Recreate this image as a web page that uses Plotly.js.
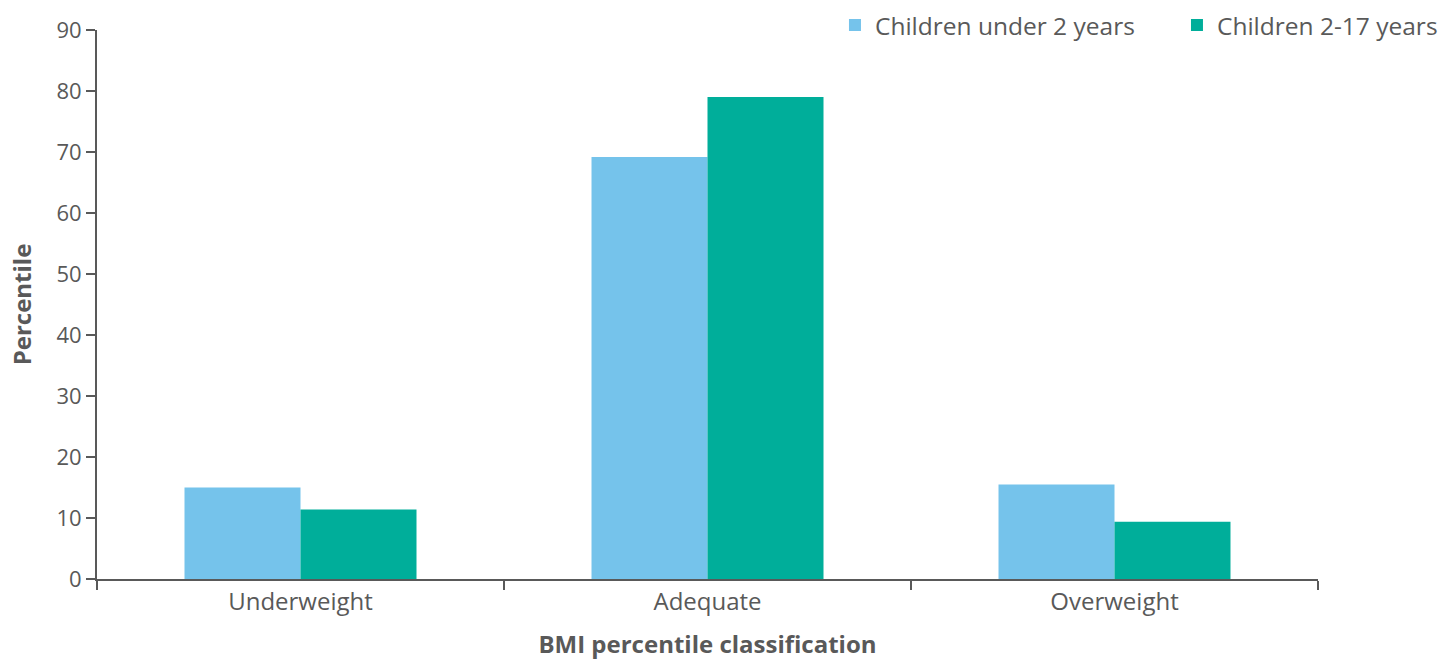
<!DOCTYPE html>
<html>
<head>
<meta charset="utf-8">
<script src="https://cdn.plot.ly/plotly-3.0.1.min.js"></script>
<style>html,body{margin:0;padding:0;background:#fff;}#chart{width:1456px;height:660px;}</style>
</head>
<body>
<div id="chart"></div>
<script>
const categories = ["Underweight", "Adequate", "Overweight"];
const seriesNames = ["Children under 2 years", "Children 2-17 years"];
const under2 = [15.0, 69.2, 15.5];
const age2to17 = [11.4, 79.0, 9.4];
const yTicks = [0, 10, 20, 30, 40, 50, 60, 70, 80, 90];

const textColor = "#595959";
const font = "'Open Sans', 'Noto Sans', sans-serif";

const traces = [
  {type: "bar", name: seriesNames[0], x: categories, y: under2, marker: {color: "#75C3EB"}, hoverinfo: "x+y"},
  {type: "bar", name: seriesNames[1], x: categories, y: age2to17, marker: {color: "#00AE9A"}, hoverinfo: "x+y"}
];

const layout = {
  width: 1456, height: 660,
  margin: {l: 97, r: 138, t: 30, b: 81, pad: 0, autoexpand: false},
  paper_bgcolor: "#fff", plot_bgcolor: "#fff",
  font: {family: font, size: 24, color: textColor},
  barmode: "group",
  bargap: 0.43,
  bargroupgap: 0,
  showlegend: true,
  legend: {orientation: "h", x: 0.6044, xanchor: "left", y: 1.009, yanchor: "middle",
           entrywidth: 297, entrywidthmode: "pixels",
           font: {size: 24.5, color: textColor}, bgcolor: "rgba(0,0,0,0)", traceorder: "normal"},
  xaxis: {
    type: "category", categoryarray: categories,
    showline: true, linecolor: "#595959", linewidth: 2,
    ticks: "outside", tickson: "boundaries", ticklen: 9, tickwidth: 2, tickcolor: "#595959",
    showgrid: false, zeroline: false,
    tickfont: {size: 24, color: textColor},
    title: {text: "<b>BMI percentile classification</b>", font: {size: 24, color: textColor}, standoff: 22}
  },
  yaxis: {
    range: [0, 90], tickvals: yTicks, ticktext: yTicks.map(String),
    showline: true, linecolor: "#595959", linewidth: 2,
    ticks: "outside", ticklen: 9, tickwidth: 2, tickcolor: "#595959",
    showgrid: false, zeroline: false,
    tickfont: {size: 22, color: textColor},
    title: {text: "<b>Percentile</b>", font: {size: 24, color: textColor}, standoff: 18}
  }
};

Plotly.newPlot("chart", traces, layout, {displayModeBar: false, staticPlot: true});
</script>
</body>
</html>
